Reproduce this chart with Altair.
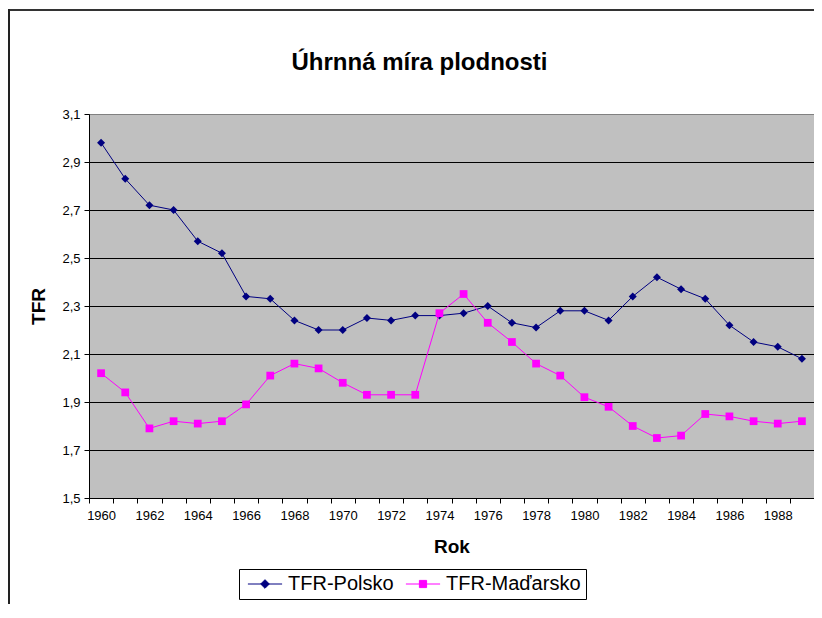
import altair as alt
import pandas as pd

years = list(range(1960, 1990))
tfr_polsko = [2.98, 2.83, 2.72, 2.70, 2.57, 2.52, 2.34, 2.33, 2.24, 2.20,
              2.20, 2.25, 2.24, 2.26, 2.26, 2.27, 2.30, 2.23, 2.21, 2.28,
              2.28, 2.24, 2.34, 2.42, 2.37, 2.33, 2.22, 2.15, 2.13, 2.08]
tfr_madarsko = [2.02, 1.94, 1.79, 1.82, 1.81, 1.82, 1.89, 2.01, 2.06, 2.04,
                1.98, 1.93, 1.93, 1.93, 2.27, 2.35, 2.23, 2.15, 2.06, 2.01,
                1.92, 1.88, 1.80, 1.75, 1.76, 1.85, 1.84, 1.82, 1.81, 1.82]
series_names = ["TFR-Polsko", "TFR-Maďarsko"]
series_colors = ["#000080", "#FF00FF"]
y_ticks = [1.5, 1.7, 1.9, 2.1, 2.3, 2.5, 2.7, 2.9, 3.1]

rows = []
for name, vals in zip(series_names, [tfr_polsko, tfr_madarsko]):
    for yr, v in zip(years, vals):
        rows.append({"Rok": yr, "TFR": v, "serie": name})
df = pd.DataFrame(rows)

FONT = "Liberation Sans"

x_enc = alt.X("Rok:O",
              scale=alt.Scale(type="band", paddingInner=0, paddingOuter=0),
              axis=alt.Axis(title="Rok", labelAngle=0, tickBand="extent",
                            labelExpr="datum.value % 2 == 0 ? datum.label : ''",
                            labelOverlap=False, tickSize=5, labelPadding=6,
                            labelFontSize=13, titleFontSize=19, titleFontWeight="bold",
                            titlePadding=15, domainColor="black", tickColor="black",
                            labelColor="black", titleColor="black", grid=False))
y_enc = alt.Y("TFR:Q",
              scale=alt.Scale(domain=[1.5, 3.1], nice=False, zero=False),
              axis=alt.Axis(title="TFR", values=y_ticks,
                            labelExpr="replace(format(datum.value, '.1f'), '.', ',')",
                            tickSize=5, labelPadding=4, labelFontSize=13,
                            titleFontSize=19, titleFontWeight="bold", titlePadding=13,
                            domainColor="black", tickColor="black", labelColor="black",
                            titleColor="black", grid=True,
                            gridColor={"condition": {"test": "datum.value >= 3.05", "value": "#808080"},
                                       "value": "black"},
                            gridWidth=1))

base = alt.Chart(df)

layers = []
shapes_chart = ["diamond", "square"]
sizes_chart = [64, 60]
for name, col, shp, sz in zip(series_names, series_colors, shapes_chart, sizes_chart):
    sub = base.transform_filter(alt.datum.serie == name)
    layers.append(sub.mark_line(color=col, strokeWidth=1).encode(x=x_enc, y=y_enc))
    layers.append(sub.mark_point(color=col, shape=shp, size=sz, filled=True, opacity=1)
                  .encode(x=x_enc, y=y_enc))

legend_paths = ["M-1.9,0H1.9M0,-0.48L0.48,0L0,0.48L-0.48,0Z",
                "M-1.9,0H1.9M-0.4,-0.4H0.4V0.4H-0.4Z"]
leg = alt.Legend(title=None, orient="none", legendX=150, legendY=455,
                 direction="horizontal", strokeColor="black", fillColor="white",
                 padding=5, labelFontSize=20, labelFont=FONT, labelColor="black",
                 symbolSize=324, symbolStrokeWidth=1, symbolOffset=11, labelOffset=13,
                 columnPadding=8, symbolOpacity=1)
legend_layer = base.transform_filter("false").mark_point(filled=True, size=324, opacity=1).encode(
    color=alt.Color("serie:N", scale=alt.Scale(domain=series_names, range=series_colors), legend=leg),
    stroke=alt.Stroke("serie:N", scale=alt.Scale(domain=series_names, range=series_colors), legend=leg),
    shape=alt.Shape("serie:N", scale=alt.Scale(domain=series_names, range=legend_paths), legend=leg),
    x=x_enc, y=y_enc,
)

frame_top = base.mark_rule(stroke="#333333", strokeWidth=2, clip=False).encode(
    x=alt.value(-81), x2=alt.value(760), y=alt.value(-104)
)
frame_left = base.mark_rule(stroke="#222222", strokeWidth=2, clip=False).encode(
    x=alt.value(-80), y=alt.value(-105), y2=alt.value(520)
)

chart = alt.layer(frame_top, frame_left, *layers, legend_layer).properties(
    width=725, height=384,
    title=alt.TitleParams("Úhrnná míra plodnosti", fontSize=24, font=FONT,
                          fontWeight="bold", anchor="middle", frame="group", dx=-32,
                          offset=-67, color="black"),
    autosize=alt.AutoSizeParams(type="none"),
    padding={"left": 81, "top": 106, "right": 0, "bottom": 106},
).configure(font=FONT).configure_view(fill="#C0C0C0", stroke="#808080", strokeWidth=1)

chart.save("out.html", embed_options={"renderer": "svg", "actions": False})
